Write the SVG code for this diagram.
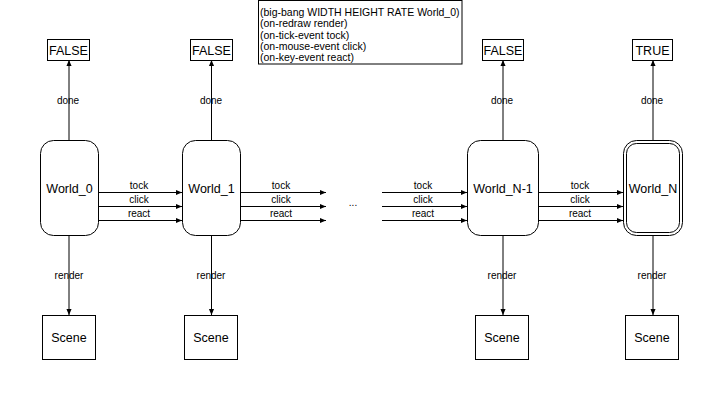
<svg xmlns="http://www.w3.org/2000/svg" width="723" height="401" viewBox="0 0 723 401">
<style>
text{font-family:"Liberation Sans",Arial,sans-serif;fill:#000}
.w{font-size:12.5px;text-anchor:middle}
.l{font-size:10px;text-anchor:middle}
.c{font-size:10.5px}
.box{fill:#fff;stroke:#000;stroke-width:1}
.e{stroke:#000;stroke-width:1;fill:none;marker-end:url(#ah)}
</style>
<defs>
<marker id="ah" viewBox="0 0 8 8" refX="7" refY="4" markerWidth="7" markerHeight="7" markerUnits="userSpaceOnUse" orient="auto">
<path d="M0,1 L7,4 L0,7 z" fill="#000"/>
</marker>
</defs>
<rect width="723" height="401" fill="#fff"/>
<g id="code">
<rect class="box" x="258.500" y="0.500" width="203.500" height="63.500"/>
<text class="c" x="260" y="16">(big-bang WIDTH HEIGHT RATE World_0)</text>
<text class="c" x="260" y="27.250">(on-redraw render)</text>
<text class="c" x="260" y="38.500">(on-tick-event tock)</text>
<text class="c" x="260" y="49.750">(on-mouse-event click)</text>
<text class="c" x="260" y="61">(on-key-event react)</text>
</g>
<g id="connectors">
<path class="e" d="M69,140 V60"/>
<path class="e" d="M211.500,140 V60"/>
<path class="e" d="M503,140 V60"/>
<path class="e" d="M653,140 V60"/>
<path class="e" d="M69,236 V315"/>
<path class="e" d="M211.500,236 V315"/>
<path class="e" d="M503,236 V315"/>
<path class="e" d="M653,236 V315"/>
<path class="e" d="M98,192.500 H182"/>
<path class="e" d="M98,206.500 H182"/>
<path class="e" d="M98,220.500 H182"/>
<path class="e" d="M241,192.500 H326"/>
<path class="e" d="M241,206.500 H326"/>
<path class="e" d="M241,220.500 H326"/>
<path class="e" d="M382,192.500 H467"/>
<path class="e" d="M382,206.500 H467"/>
<path class="e" d="M382,220.500 H467"/>
<path class="e" d="M539,192.500 H623"/>
<path class="e" d="M539,206.500 H623"/>
<path class="e" d="M539,220.500 H623"/>
<g class="lbl">
<text class="l" x="68" y="104">done</text>
<text class="l" x="211" y="104">done</text>
<text class="l" x="502" y="104">done</text>
<text class="l" x="652" y="104">done</text>
<text class="l" x="69" y="279">render</text>
<text class="l" x="211" y="279">render</text>
<text class="l" x="502" y="279">render</text>
<text class="l" x="652" y="279">render</text>
<text class="l" x="139" y="189">tock</text>
<text class="l" x="139" y="203">click</text>
<text class="l" x="139" y="217">react</text>
<text class="l" x="281" y="189">tock</text>
<text class="l" x="281" y="203">click</text>
<text class="l" x="281" y="217">react</text>
<text class="l" x="423" y="189">tock</text>
<text class="l" x="423" y="203">click</text>
<text class="l" x="423" y="217">react</text>
<text class="l" x="580" y="189">tock</text>
<text class="l" x="580" y="203">click</text>
<text class="l" x="580" y="217">react</text>
<text class="l" x="353" y="206">...</text>
</g>
</g>
<g id="world0"><rect class="box" x="40.500" y="140.500" width="58" height="95" rx="13"/><text class="w" x="69.500" y="193">World_0</text></g>
<g id="world1"><rect class="box" x="182.500" y="140.500" width="58" height="95" rx="13"/><text class="w" x="211.500" y="193">World_1</text></g>
<g id="worldN1"><rect class="box" x="467.500" y="140.500" width="71" height="95" rx="13"/><text class="w" x="503" y="193">World_N-1</text></g>
<g id="worldN"><rect class="box" x="623.500" y="140.500" width="59" height="95" rx="13"/><rect class="box" x="626.500" y="143.500" width="53" height="89" rx="10"/><text class="w" x="653" y="193">World_N</text></g>
<g id="done0"><rect class="box" x="47.500" y="39.500" width="42" height="21"/><text class="w" x="68.500" y="55">FALSE</text></g>
<g id="done1"><rect class="box" x="190.500" y="39.500" width="42" height="21"/><text class="w" x="211.500" y="55">FALSE</text></g>
<g id="doneN1"><rect class="box" x="482.500" y="39.500" width="41" height="21"/><text class="w" x="503" y="55">FALSE</text></g>
<g id="doneN"><rect class="box" x="632.500" y="39.500" width="40" height="21"/><text class="w" x="652.500" y="55">TRUE</text></g>
<g id="scene0"><rect class="box" x="42.500" y="315.500" width="53" height="44"/><text class="w" x="69" y="342">Scene</text></g>
<g id="scene1"><rect class="box" x="184.500" y="315.500" width="53" height="44"/><text class="w" x="211" y="342">Scene</text></g>
<g id="sceneN1"><rect class="box" x="475.500" y="315.500" width="53" height="44"/><text class="w" x="502" y="342">Scene</text></g>
<g id="sceneN"><rect class="box" x="625.500" y="315.500" width="53" height="44"/><text class="w" x="652" y="342">Scene</text></g>
</svg>
